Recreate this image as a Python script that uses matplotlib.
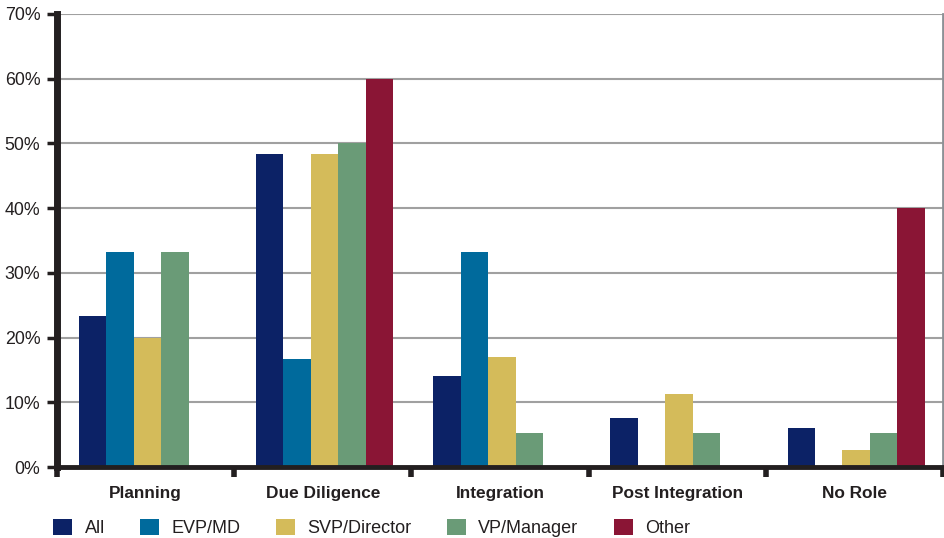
import matplotlib
matplotlib.use("Agg")
import matplotlib.pyplot as plt
import numpy as np

plt.rcParams["font.family"] = ["Liberation Sans", "DejaVu Sans"]

categories = ["Planning", "Due Diligence", "Integration", "Post Integration", "No Role"]
series_names = ["All", "EVP/MD", "SVP/Director", "VP/Manager", "Other"]
all_vals = [23.3, 48.4, 14.0, 7.6, 6.1]
evp_vals = [33.3, 16.7, 33.3, 0.0, 0.0]
svp_vals = [20.0, 48.4, 17.0, 11.3, 2.6]
vp_vals = [33.3, 50.0, 5.3, 5.3, 5.3]
other_vals = [0.0, 60.0, 0.0, 0.0, 40.0]
y_ticks = [0, 10, 20, 30, 40, 50, 60, 70]

colors = ["#0c2266", "#006a9c", "#d4bb5a", "#6a9b77", "#8a1535"]
series = [all_vals, evp_vals, svp_vals, vp_vals, other_vals]

fig = plt.figure(figsize=(9.44, 5.38), dpi=100)
ax = fig.add_axes([57 / 944, 1 - 467 / 538, 886 / 944, 453 / 538])

x = np.arange(len(categories))
width = 0.155
offsets = (np.arange(5) - 2) * width + 0.01
for vals, col, name, off in zip(series, colors, series_names, offsets):
    ax.bar(x + off, vals, width=width, color=col, label=name, zorder=2,
           linewidth=0)

ax.set_xlim(-0.5, len(categories) - 0.5)
ax.set_ylim(0, 70)
ax.set_yticks(y_ticks)
ax.set_yticklabels([f"{v}%" for v in y_ticks], fontsize=12.8, color="#231f20")
ax.yaxis.grid(True, color="#a0a0a0", linewidth=1.5, zorder=0)
ax.set_axisbelow(True)

# category labels centred, ticks at group boundaries
ax.set_xticks(x)
ax.set_xticklabels(categories, fontsize=12.4, fontweight="bold", color="#231f20")
ax.tick_params(axis="x", length=0, pad=14)
ax.set_xticks(np.arange(len(categories) + 1) - 0.5, minor=True)
ax.tick_params(axis="x", which="minor", length=7, width=4, color="#231f20",
               direction="out")
ax.tick_params(axis="y", length=7, width=2.5, color="#231f20", pad=5)

ax.spines["top"].set_visible(False)
ax.spines["right"].set_color("#8c9196")
ax.spines["right"].set_linewidth(2)
ax.spines["left"].set_color("#231f20")
ax.spines["left"].set_linewidth(5)
ax.spines["bottom"].set_color("#231f20")
ax.spines["bottom"].set_linewidth(3.5)
ax.spines["bottom"].set_zorder(3)

handles, labels = ax.get_legend_handles_labels()
fig.legend(handles, labels, loc="center left",
           bbox_to_anchor=(53 / 944, 1 - 528 / 538),
           ncol=5, frameon=False, fontsize=13, handlelength=1.05,
           handleheight=1.05, handletextpad=0.7, columnspacing=1.95,
           borderpad=0, borderaxespad=0, labelcolor="#231f20")

fig.savefig("out.png", dpi=100)
